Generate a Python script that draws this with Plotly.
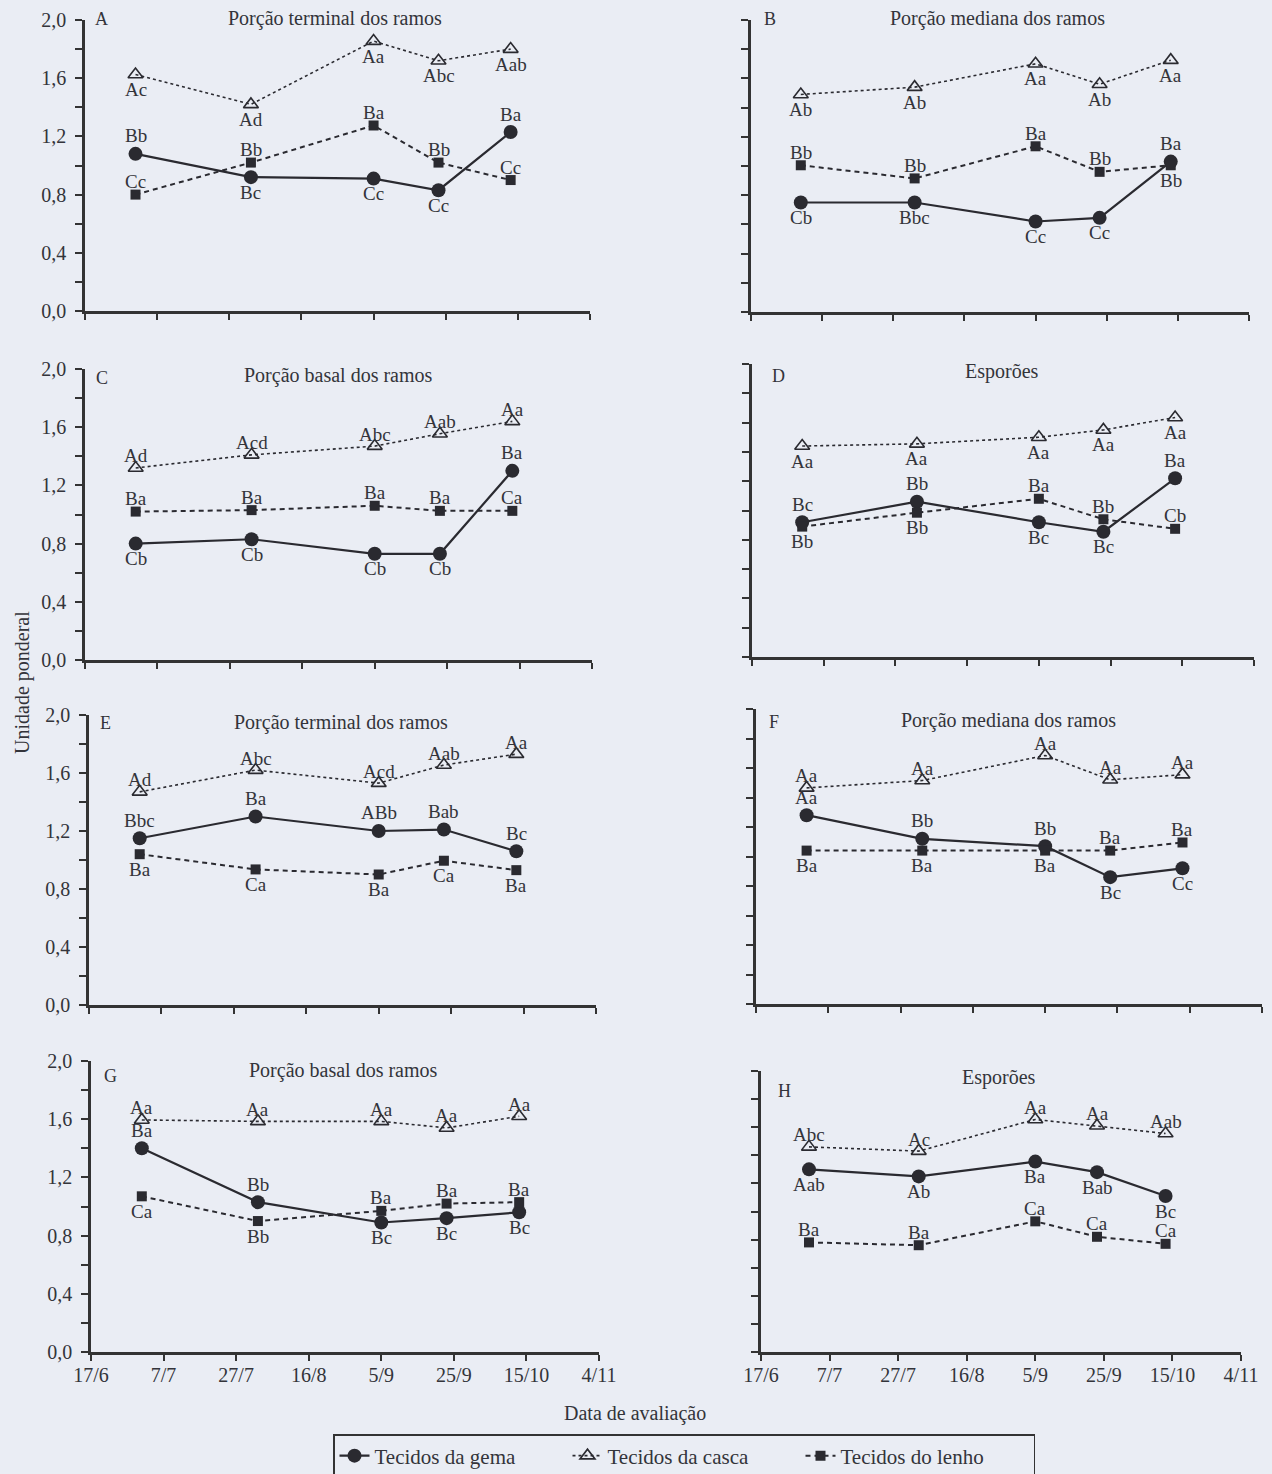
import plotly.graph_objects as go

W, H = 1272, 1474

# ---------------- data ----------------
dates = ["2008-07-01", "2008-08-02", "2008-09-05", "2008-09-23", "2008-10-13"]
tick_dates = ["2008-06-17", "2008-07-07", "2008-07-27", "2008-08-16",
              "2008-09-05", "2008-09-25", "2008-10-15", "2008-11-04"]
tick_text = ["17/6", "7/7", "27/7", "16/8", "5/9", "25/9", "15/10", "4/11"]
y_tickvals = [0.0, 0.2, 0.4, 0.6, 0.8, 1.0, 1.2, 1.4, 1.6, 1.8, 2.0]
y_ticktext = ["0,0", "", "0,4", "", "0,8", "", "1,2", "", "1,6", "", "2,0"]

panels = ["A", "B", "C", "D", "E", "F", "G", "H"]
titles = {
    "A": "Porção terminal dos ramos", "B": "Porção mediana dos ramos",
    "C": "Porção basal dos ramos", "D": "Esporões",
    "E": "Porção terminal dos ramos", "F": "Porção mediana dos ramos",
    "G": "Porção basal dos ramos", "H": "Esporões",
}

gema = {
    "A": [1.08, 0.92, 0.91, 0.83, 1.23],
    "B": [0.75, 0.75, 0.62, 0.645, 1.03],
    "C": [0.80, 0.83, 0.73, 0.73, 1.30],
    "D": [0.92, 1.06, 0.92, 0.855, 1.22],
    "E": [1.15, 1.30, 1.20, 1.21, 1.06],
    "F": [1.28, 1.12, 1.07, 0.86, 0.92],
    "G": [1.40, 1.03, 0.89, 0.92, 0.96],
    "H": [1.30, 1.25, 1.355, 1.28, 1.11],
}
casca = {
    "A": [1.625, 1.42, 1.855, 1.72, 1.80],
    "B": [1.49, 1.54, 1.70, 1.56, 1.725],
    "C": [1.32, 1.41, 1.47, 1.555, 1.64],
    "D": [1.44, 1.455, 1.50, 1.55, 1.635],
    "E": [1.47, 1.62, 1.53, 1.655, 1.73],
    "F": [1.465, 1.515, 1.685, 1.52, 1.555],
    "G": [1.595, 1.585, 1.585, 1.54, 1.62],
    "H": [1.46, 1.43, 1.655, 1.61, 1.555],
}
lenho = {
    "A": [0.80, 1.02, 1.275, 1.02, 0.90],
    "B": [1.005, 0.915, 1.135, 0.96, 1.005],
    "C": [1.02, 1.03, 1.06, 1.025, 1.025],
    "D": [0.89, 0.985, 1.08, 0.94, 0.875],
    "E": [1.04, 0.935, 0.90, 0.995, 0.93],
    "F": [1.04, 1.04, 1.04, 1.04, 1.095],
    "G": [1.07, 0.90, 0.97, 1.02, 1.03],
    "H": [0.78, 0.76, 0.93, 0.82, 0.77],
}

lab_gema = {
    "A": ["Bb", "Bc", "Cc", "Cc", "Ba"], "B": ["Cb", "Bbc", "Cc", "Cc", "Ba"],
    "C": ["Cb", "Cb", "Cb", "Cb", "Ba"], "D": ["Bc", "Bb", "Bc", "Bc", "Ba"],
    "E": ["Bbc", "Ba", "ABb", "Bab", "Bc"], "F": ["Aa", "Bb", "Bb", "Bc", "Cc"],
    "G": ["Ba", "Bb", "Bc", "Bc", "Bc"], "H": ["Aab", "Ab", "Ba", "Bab", "Bc"],
}
lab_casca = {
    "A": ["Ac", "Ad", "Aa", "Abc", "Aab"], "B": ["Ab", "Ab", "Aa", "Ab", "Aa"],
    "C": ["Ad", "Acd", "Abc", "Aab", "Aa"], "D": ["Aa", "Aa", "Aa", "Aa", "Aa"],
    "E": ["Ad", "Abc", "Acd", "Aab", "Aa"], "F": ["Aa", "Aa", "Aa", "Aa", "Aa"],
    "G": ["Aa", "Aa", "Aa", "Aa", "Aa"], "H": ["Abc", "Ac", "Aa", "Aa", "Aab"],
}
lab_lenho = {
    "A": ["Cc", "Bb", "Ba", "Bb", "Cc"], "B": ["Bb", "Bb", "Ba", "Bb", "Bb"],
    "C": ["Ba", "Ba", "Ba", "Ba", "Ca"], "D": ["Bb", "Bb", "Ba", "Bb", "Cb"],
    "E": ["Ba", "Ca", "Ba", "Ca", "Ba"], "F": ["Ba", "Ba", "Ba", "Ba", "Ba"],
    "G": ["Ca", "Bb", "Ba", "Ba", "Ba"], "H": ["Ba", "Ba", "Ca", "Ca", "Ca"],
}

# label placement (1 = above point, -1 = below point)
pos_gema = {
    "A": [1, -1, -1, -1, 1], "B": [-1, -1, -1, -1, 1], "C": [-1, -1, -1, -1, 1],
    "D": [1, 1, -1, -1, 1], "E": [1, 1, 1, 1, 1], "F": [1, 1, 1, -1, -1],
    "G": [1, 1, -1, -1, -1], "H": [-1, -1, -1, -1, -1],
}
pos_casca = {
    "A": [-1] * 5, "B": [-1] * 5, "C": [1] * 5, "D": [-1] * 5,
    "E": [1] * 5, "F": [1] * 5, "G": [1] * 5, "H": [1] * 5,
}
pos_lenho = {
    "A": [1] * 5, "B": [1, 1, 1, 1, -1], "C": [1] * 5, "D": [-1, -1, 1, 1, 1],
    "E": [-1] * 5, "F": [-1, -1, -1, 1, 1], "G": [-1, -1, 1, 1, 1], "H": [1] * 5,
}

# ---------------- layout geometry (pixels) ----------------
geom = {  # x0, x1, ytop, ybottom
    "A": (85, 590, 20, 311), "B": (751, 1249, 20, 312),
    "C": (85, 592, 369, 660), "D": (752, 1254, 364, 657),
    "E": (89, 596, 715, 1005), "F": (756, 1262, 709, 1004),
    "G": (91, 599, 1061, 1352), "H": (761, 1241, 1071, 1352),
}
title_pos = {
    "A": (335, 19), "B": (997, 19), "C": (338, 376), "D": (1002, 371),
    "E": (341, 722), "F": (1008, 720), "G": (343, 1070), "H": (999, 1077),
}
letter_pos = {
    "A": (101, 19), "B": (770, 19), "C": (102, 378), "D": (778, 376),
    "E": (105, 723), "F": (774, 722), "G": (110, 1076), "H": (785, 1091),
}

FONT = "Liberation Serif, Times New Roman, serif"
INK = "#2a2a30"
TXT = "#33343a"
BG = "#eaedf4"


def px(x):
    return x / W


def py(y):
    return 1 - y / H


fig = go.Figure()
annotations = []

for i, p in enumerate(panels):
    n = i + 1
    xa = "x" if n == 1 else f"x{n}"
    ya = "y" if n == 1 else f"y{n}"
    show_leg = (n == 1)

    fig.add_trace(go.Scatter(
        x=dates, y=gema[p], xaxis=xa, yaxis=ya, mode="lines+markers",
        name="Tecidos da gema", showlegend=show_leg, legendrank=1,
        line=dict(color=INK, width=2.2),
        marker=dict(symbol="circle", size=14, color=INK)))
    fig.add_trace(go.Scatter(
        x=dates, y=casca[p], xaxis=xa, yaxis=ya, mode="lines+markers",
        name="Tecidos da casca", showlegend=show_leg, legendrank=2,
        line=dict(color=INK, width=1.6, dash="dot"),
        marker=dict(symbol="triangle-up-open", size=13, color=INK,
                    line=dict(width=1.6, color=INK))))
    fig.add_trace(go.Scatter(
        x=dates, y=lenho[p], xaxis=xa, yaxis=ya, mode="lines+markers",
        name="Tecidos do lenho", showlegend=show_leg, legendrank=3,
        line=dict(color=INK, width=2, dash="5px,4px"),
        marker=dict(symbol="square", size=10, color=INK)))

    for vals, labs, poss, off_up, off_dn in (
            (gema[p], lab_gema[p], pos_gema[p], 18, 15),
            (casca[p], lab_casca[p], pos_casca[p], 12, 15),
            (lenho[p], lab_lenho[p], pos_lenho[p], 13, 15)):
        for d, v, t, s in zip(dates, vals, labs, poss):
            annotations.append(dict(
                x=d, y=v, xref=xa, yref=ya, text=t, showarrow=False,
                xanchor="center", yanchor="middle",
                yshift=off_up if s > 0 else -off_dn,
                font=dict(family=FONT, size=19, color=TXT)))

    x0, x1, yt, yb = geom[p]
    left = (n % 2 == 1)
    bottom = p in ("G", "H")
    fig.update_layout({
        ("xaxis" if n == 1 else f"xaxis{n}"): dict(
            domain=[px(x0), px(x1)], anchor=ya, type="date", automargin=False,
            range=[tick_dates[0], tick_dates[-1]],
            tickmode="array", tickvals=tick_dates, ticktext=tick_text,
            showticklabels=bottom, ticks="outside", ticklen=6, tickwidth=2,
            ticklabelstandoff=-3,
            tickcolor="#333", showline=True, linecolor="#333", linewidth=2.5,
            showgrid=False, zeroline=False,
            tickfont=dict(family=FONT, size=20, color=TXT)),
        ("yaxis" if n == 1 else f"yaxis{n}"): dict(
            domain=[py(yb), py(yt)], anchor=xa, range=[0, 2.0], automargin=False,
            tickmode="array", tickvals=y_tickvals, ticktext=y_ticktext,
            showticklabels=left, ticks="outside", ticklen=7, tickwidth=2,
            ticklabelstandoff=5,
            tickcolor="#333", showline=True, linecolor="#333", linewidth=2.5,
            showgrid=False, zeroline=False,
            tickfont=dict(family=FONT, size=20, color=TXT)),
    })

    tx, ty = title_pos[p]
    annotations.append(dict(x=px(tx), y=py(ty), xref="paper", yref="paper",
                            xanchor="center", yanchor="middle",
                            text=titles[p], showarrow=False,
                            font=dict(family=FONT, size=20, color=TXT)))
    lx, ly = letter_pos[p]
    annotations.append(dict(x=px(lx), y=py(ly), xref="paper", yref="paper",
                            xanchor="center", yanchor="middle",
                            text=p, showarrow=False,
                            font=dict(family=FONT, size=18, color=TXT)))

annotations.append(dict(x=px(22), y=py(683), xref="paper", yref="paper",
                        xanchor="center", yanchor="middle",
                        text="Unidade ponderal", textangle=-90, showarrow=False,
                        font=dict(family=FONT, size=20, color=TXT)))
annotations.append(dict(x=px(635), y=py(1413), xref="paper", yref="paper",
                        xanchor="center", yanchor="middle",
                        text="Data de avaliação", showarrow=False,
                        font=dict(family=FONT, size=20, color=TXT)))

fig.update_layout(
    width=W, height=H, margin=dict(l=0, r=0, t=0, b=0, autoexpand=False),
    paper_bgcolor=BG, plot_bgcolor=BG,
    annotations=annotations,
    legend=dict(orientation="h", x=px(684), xanchor="center",
                y=py(1456), yanchor="middle", bgcolor=BG,
                bordercolor="#333", borderwidth=1.5,
                font=dict(family=FONT, size=21, color=TXT),
                entrywidth=188, entrywidthmode="pixels",
                traceorder="normal"),
)

fig.write_html(
    "out.html",
    config={"displayModeBar": False},
    post_script="document.body.style.margin='0';"
                "document.body.style.background='" + BG + "';")
